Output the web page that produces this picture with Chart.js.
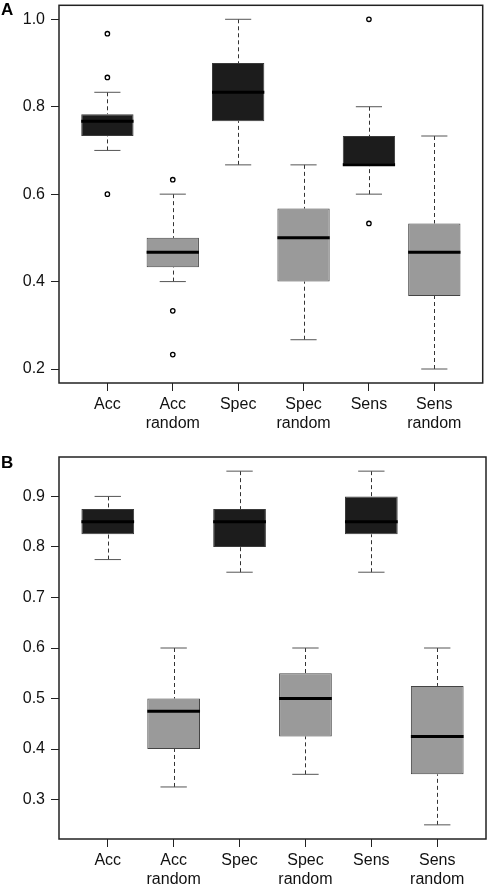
<!DOCTYPE html>
<html>
<head>
<meta charset="utf-8">
<title>Boxplots A and B</title>
<script src="https://cdn.jsdelivr.net/npm/chart.js@4.4.1/dist/chart.umd.min.js"></script>
<style>
  body { margin: 0; background: #fff; }
  .panel { position: absolute; left: 0; width: 488px; height: 444px; }
  .tag { position: absolute; left: 1px; font: bold 17px 'Liberation Sans', Arial, sans-serif; color: #000; }
</style>
</head>
<body>
<div class="panel" style="top:0"><canvas id="chartA" width="488" height="444"></canvas></div>
<div class="panel" style="top:444px"><canvas id="chartB" width="488" height="444"></canvas></div>
<div class="tag" style="top:0px">A</div>
<div class="tag" style="top:453px">B</div>

<script>
// categories along the x axis
const categories = ['Acc', 'Acc random', 'Spec', 'Spec random', 'Sens', 'Sens random'];
const positions = [1, 2, 3, 4, 5, 6];
const isRandom = [false, true, false, true, false, true];

// panel A
const lowA = [0.700, 0.400, 0.667, 0.267, 0.600, 0.200];
const q1A = [0.733, 0.433, 0.767, 0.400, 0.667, 0.367];
const medA = [0.767, 0.467, 0.833, 0.500, 0.667, 0.467];
const q3A = [0.783, 0.500, 0.900, 0.567, 0.733, 0.533];
const highA = [0.833, 0.600, 1.000, 0.667, 0.800, 0.733];
const outliersA = [[0.967, 0.867, 0.600], [0.633, 0.333, 0.233], [], [], [1.000, 0.533], []];
const yTicksA = [0.2, 0.4, 0.6, 0.8, 1.0];

// panel B
const lowB = [0.775, 0.325, 0.750, 0.350, 0.750, 0.250];
const q1B = [0.825, 0.400, 0.800, 0.425, 0.825, 0.350];
const medB = [0.850, 0.475, 0.850, 0.500, 0.850, 0.425];
const q3B = [0.875, 0.500, 0.875, 0.550, 0.900, 0.525];
const highB = [0.900, 0.600, 0.950, 0.600, 0.950, 0.600];
const outliersB = [[], [], [], [], [], []];
const yTicksB = [0.3, 0.4, 0.5, 0.6, 0.7, 0.8, 0.9];

Chart.defaults.font.family = "'Liberation Sans', Arial, sans-serif";
Chart.defaults.font.size = 16;
Chart.defaults.color = '#111';

function makeBoxplot(canvasId, low, q1, med, q3, high, outliers, yTicks, padTop, axisHeight) {
  // like R: extend the range 4% on each side
  const all = low.concat(high, outliers.flat());
  const lo = Math.min(...all), hi = Math.max(...all);
  const ext = (hi - lo) * 0.04;

  const outlierPoints = [];
  outliers.forEach((vals, i) => {
    vals.forEach(v => outlierPoints.push({ x: positions[i], y: v }));
  });

  const boxParts = {
    id: 'boxParts',
    beforeDatasetsDraw(chart) {
      const x = chart.scales.x, y = chart.scales.y, ctx = chart.ctx;
      ctx.save();
      ctx.lineWidth = 1;
      positions.forEach((p, i) => {
        const px = Math.round(x.getPixelForValue(p)) + 0.5;
        const capL = x.getPixelForValue(p - 0.2), capR = x.getPixelForValue(p + 0.2);
        // dashed whiskers
        ctx.setLineDash([4, 3]);
        ctx.strokeStyle = '#333';
        ctx.beginPath();
        ctx.moveTo(px, y.getPixelForValue(high[i]));
        ctx.lineTo(px, y.getPixelForValue(q3[i]));
        ctx.moveTo(px, y.getPixelForValue(low[i]));
        ctx.lineTo(px, y.getPixelForValue(q1[i]));
        ctx.stroke();
        // whisker caps
        ctx.setLineDash([]);
        ctx.strokeStyle = '#555';
        ctx.beginPath();
        ctx.moveTo(capL, y.getPixelForValue(high[i]));
        ctx.lineTo(capR, y.getPixelForValue(high[i]));
        ctx.moveTo(capL, y.getPixelForValue(low[i]));
        ctx.lineTo(capR, y.getPixelForValue(low[i]));
        ctx.stroke();
      });
      ctx.restore();
    },
    afterDatasetsDraw(chart) {
      const x = chart.scales.x, y = chart.scales.y, ctx = chart.ctx;
      ctx.save();
      // medians
      ctx.strokeStyle = '#000';
      ctx.lineWidth = 3;
      positions.forEach((p, i) => {
        const py = y.getPixelForValue(med[i]);
        ctx.beginPath();
        ctx.moveTo(x.getPixelForValue(p - 0.4), py);
        ctx.lineTo(x.getPixelForValue(p + 0.4), py);
        ctx.stroke();
      });
      // frame around the plot
      const a = chart.chartArea;
      ctx.strokeStyle = '#222';
      ctx.lineWidth = 1.5;
      ctx.strokeRect(a.left, a.top, a.right - a.left, a.bottom - a.top);
      ctx.restore();
    }
  };

  return new Chart(document.getElementById(canvasId), {
    type: 'bar',
    data: {
      datasets: [
        {
          data: positions.map((p, i) => ({ x: p, y: [q1[i], q3[i]] })),
          backgroundColor: isRandom.map(r => r ? '#9a9a9a' : '#1c1c1c'),
          borderColor: isRandom.map(r => r ? '#444' : '#3a3a3a'),
          borderWidth: 1,
          borderSkipped: false,
          categoryPercentage: 1,
          barPercentage: 0.8
        },
        {
          type: 'scatter',
          data: outlierPoints,
          pointRadius: 2.2,
          pointBackgroundColor: '#fff',
          pointBorderColor: '#000',
          pointBorderWidth: 1.3
        }
      ]
    },
    options: {
      responsive: false,
      animation: false,
      layout: { padding: { top: padTop, right: 2, bottom: 0, left: 0 } },
      plugins: { legend: { display: false }, tooltip: { enabled: false } },
      scales: {
        x: {
          type: 'linear',
          offset: false,
          min: 0.26,
          max: 6.74,
          afterBuildTicks: s => { s.ticks = positions.map(v => ({ value: v })); },
          afterFit: s => { s.height = axisHeight; s.paddingLeft = 0; s.paddingRight = 0; },
          ticks: {
            autoSkip: false,
            maxRotation: 0,
            padding: 4,
            font: { size: 16, lineHeight: 1.2 },
            callback: (v, i) => categories[i].split(' ')
          },
          grid: { offset: false, drawOnChartArea: false, drawTicks: true, tickLength: 8, color: '#222' },
          border: { display: false }
        },
        y: {
          min: lo - ext,
          max: hi + ext,
          afterBuildTicks: s => { s.ticks = yTicks.map(v => ({ value: v })); },
          afterFit: s => { s.width = 59; s.paddingTop = 0; s.paddingBottom = 0; },
          ticks: {
            padding: 6,
            font: { size: 16 },
            callback: v => v.toFixed(1)
          },
          grid: { drawOnChartArea: false, drawTicks: true, tickLength: 8, color: '#222' },
          border: { display: false }
        }
      }
    },
    plugins: [boxParts]
  });
}

makeBoxplot('chartA', lowA, q1A, medA, q3A, highA, outliersA, yTicksA, 2, 61);
makeBoxplot('chartB', lowB, q1B, medB, q3B, highB, outliersB, yTicksB, 13, 49);
</script>
</body>
</html>
